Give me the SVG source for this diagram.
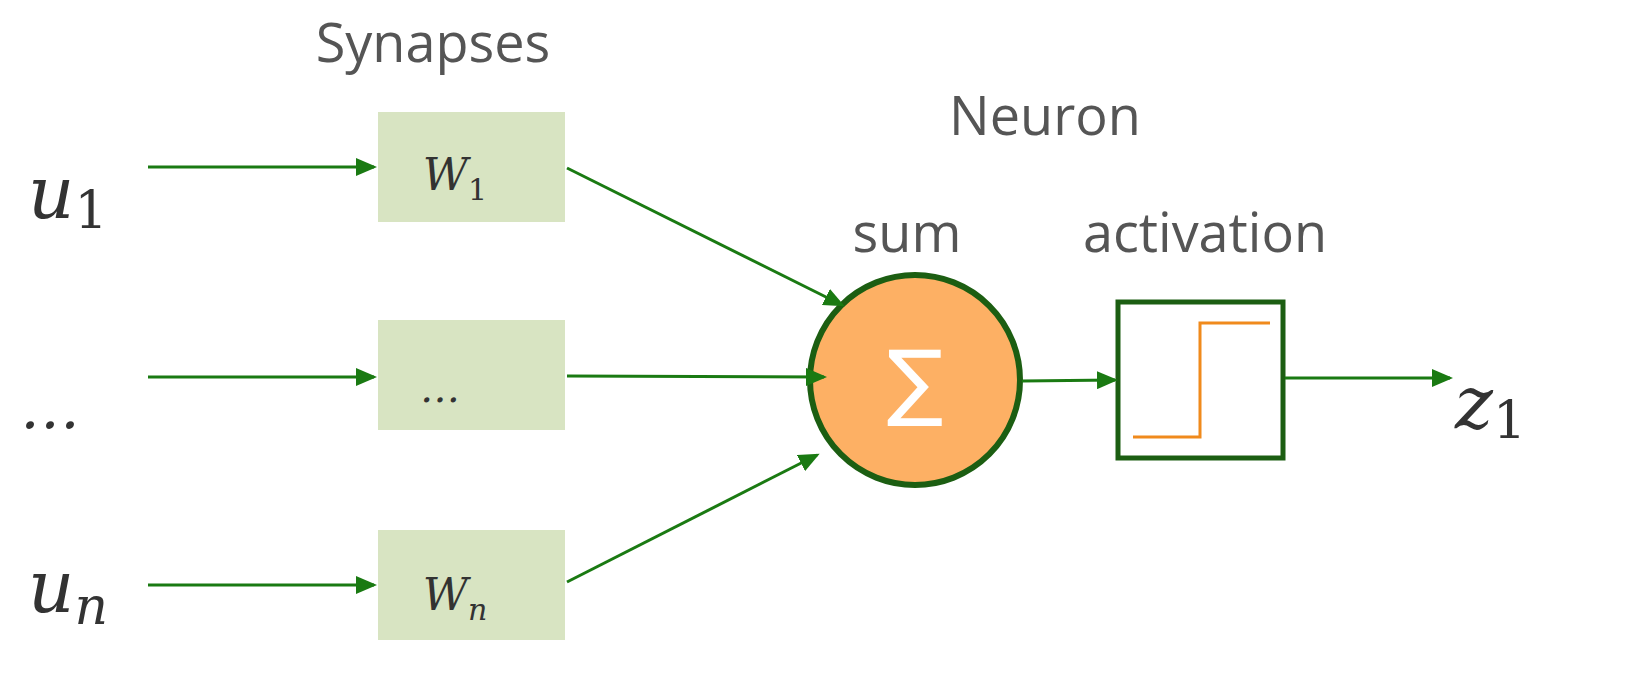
<svg xmlns="http://www.w3.org/2000/svg" width="1638" height="696" viewBox="0 0 1638 696">
<style>
.box{fill:#d8e4c2}
.lbl{font-family:"Open Sans","DejaVu Sans",sans-serif;fill:#555;font-size:54px}
.math{font-family:"DejaVu Serif","Liberation Serif",serif;fill:#333;font-style:italic}
.c{stroke:#1a7a12;stroke-width:3;fill:none;marker-end:url(#a)}
</style>
<defs><marker id="a" markerWidth="7" markerHeight="6" refX="6" refY="3" orient="auto" markerUnits="strokeWidth"><path d="M0,0 L7,3 L0,6 Z" fill="#1a7a12"/></marker></defs>
<rect width="1638" height="696" fill="#fff"/>
<text class="lbl" x="433" y="62" text-anchor="middle">Synapses</text>
<text class="lbl" x="1045" y="135" text-anchor="middle">Neuron</text>
<text class="lbl" x="907" y="252" text-anchor="middle">sum</text>
<text class="lbl" x="1205" y="252" text-anchor="middle">activation</text>
<g id="u1"><text class="math" x="28" y="218" font-size="72">u<tspan font-style="normal" font-size="52" dy="10">1</tspan></text></g>
<g id="dots"><text class="math" x="20" y="428" font-size="60" font-style="normal">…</text></g>
<g id="un"><text class="math" x="28" y="612" font-size="72">u<tspan font-size="52" dy="12">n</tspan></text></g>
<g id="w1"><rect class="box" x="378" y="112" width="187" height="110"/><text class="math" x="455" y="190" font-size="44" text-anchor="middle">W<tspan font-style="normal" font-size="30" dy="10">1</tspan></text></g>
<g id="wdots"><rect class="box" x="378" y="320" width="187" height="110"/><text class="math" x="440" y="402" font-size="40" font-style="normal" text-anchor="middle">…</text></g>
<g id="wn"><rect class="box" x="378" y="530" width="187" height="110"/><text class="math" x="455" y="610" font-size="44" text-anchor="middle">W<tspan font-size="30" dy="10">n</tspan></text></g>
<g id="sum"><circle cx="915" cy="380" r="105" fill="#fdb064" stroke="#1c5e12" stroke-width="6"/><text x="915" y="410" font-family="DejaVu Sans,sans-serif" font-size="84" fill="#fff" text-anchor="middle">∑</text></g>
<g id="act"><rect x="1118" y="302" width="165" height="156" fill="#fff" stroke="#1c5e12" stroke-width="5"/><path d="M1133,437 H1200 V323 H1270" fill="none" stroke="#f08a1c" stroke-width="3"/></g>
<g id="z1"><text class="math" x="1455" y="428" font-size="72">z<tspan font-style="normal" font-size="52" dy="10">1</tspan></text></g>
<g id="connectors">
<path class="c" d="M148,167 H374"/>
<path class="c" d="M148,377 H374"/>
<path class="c" d="M148,585 H374"/>
<path class="c" d="M567,168 L842,305"/>
<path class="c" d="M567,376 L824,377"/>
<path class="c" d="M567,582 L817,455"/>
<path class="c" d="M1022,381 L1115,380"/>
<path class="c" d="M1285,378 L1450,378"/>
</g>
</svg>
